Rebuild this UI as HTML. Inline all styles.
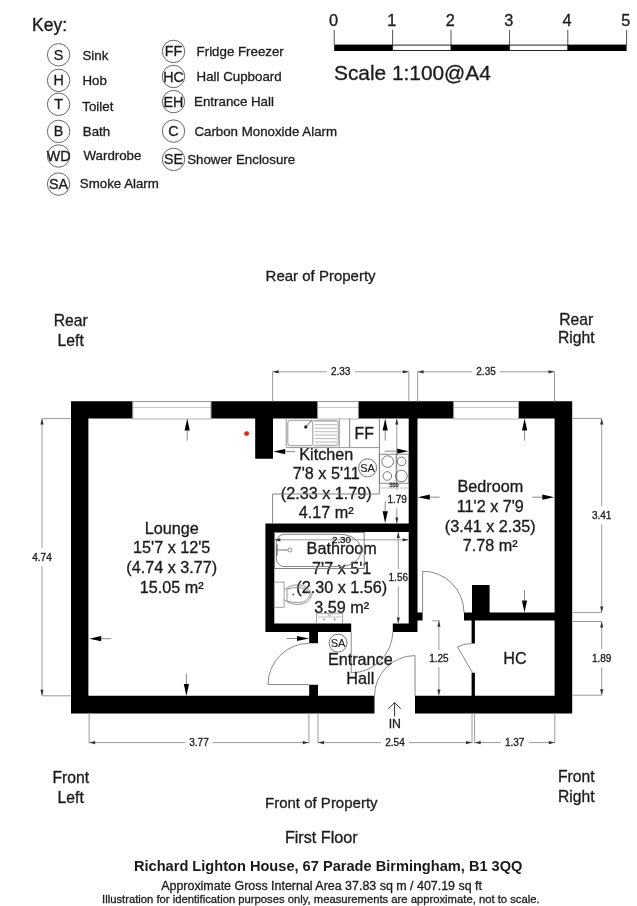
<!DOCTYPE html>
<html><head><meta charset="utf-8">
<style>
html,body{margin:0;padding:0;background:#fff;width:637px;height:906px;overflow:hidden;}
svg{display:block;will-change:transform;}
text{font-family:"Liberation Sans",sans-serif;stroke:#222;stroke-width:0.32px;}
</style></head><body>
<svg width="637" height="906" viewBox="0 0 637 906">
<text x="32" y="31.3" font-size="17.5" text-anchor="start" font-weight="normal" fill="#1a1a1a" >Key:</text>
<circle cx="58.6" cy="54.8" r="11.2" fill="none" stroke="#555" stroke-width="0.9"/>
<text x="58.6" y="59.8" font-size="14.3" text-anchor="middle" font-weight="normal" fill="#1a1a1a" >S</text>
<text x="82.5" y="59.9" font-size="13.3" text-anchor="start" font-weight="normal" fill="#1a1a1a" >Sink</text>
<circle cx="58.6" cy="80.4" r="11.2" fill="none" stroke="#555" stroke-width="0.9"/>
<text x="58.6" y="85.4" font-size="14.3" text-anchor="middle" font-weight="normal" fill="#1a1a1a" >H</text>
<text x="82.5" y="84.9" font-size="13.3" text-anchor="start" font-weight="normal" fill="#1a1a1a" >Hob</text>
<circle cx="58.6" cy="104.3" r="11.2" fill="none" stroke="#555" stroke-width="0.9"/>
<text x="58.6" y="109.3" font-size="14.3" text-anchor="middle" font-weight="normal" fill="#1a1a1a" >T</text>
<text x="82.3" y="110.6" font-size="13.3" text-anchor="start" font-weight="normal" fill="#1a1a1a" >Toilet</text>
<circle cx="58.6" cy="131.4" r="11.2" fill="none" stroke="#555" stroke-width="0.9"/>
<text x="58.6" y="136.4" font-size="14.3" text-anchor="middle" font-weight="normal" fill="#1a1a1a" >B</text>
<text x="82.8" y="135.9" font-size="13.3" text-anchor="start" font-weight="normal" fill="#1a1a1a" >Bath</text>
<circle cx="58.6" cy="156" r="11.2" fill="none" stroke="#555" stroke-width="0.9"/>
<text x="58.6" y="161.0" font-size="14.3" text-anchor="middle" font-weight="normal" fill="#1a1a1a" >WD</text>
<text x="83.5" y="160.3" font-size="13.3" text-anchor="start" font-weight="normal" fill="#1a1a1a" >Wardrobe</text>
<circle cx="58.6" cy="184.1" r="11.2" fill="none" stroke="#555" stroke-width="0.9"/>
<text x="58.6" y="189.1" font-size="14.3" text-anchor="middle" font-weight="normal" fill="#1a1a1a" >SA</text>
<text x="79.8" y="188.4" font-size="13.3" text-anchor="start" font-weight="normal" fill="#1a1a1a" >Smoke Alarm</text>
<circle cx="173.5" cy="51.4" r="11.2" fill="none" stroke="#555" stroke-width="0.9"/>
<text x="173.5" y="56.4" font-size="14.3" text-anchor="middle" font-weight="normal" fill="#1a1a1a" >FF</text>
<text x="196.6" y="55.7" font-size="13.3" text-anchor="start" font-weight="normal" fill="#1a1a1a" >Fridge Freezer</text>
<circle cx="173.5" cy="76.5" r="11.2" fill="none" stroke="#555" stroke-width="0.9"/>
<text x="173.5" y="81.5" font-size="14.3" text-anchor="middle" font-weight="normal" fill="#1a1a1a" >HC</text>
<text x="196.6" y="80.9" font-size="13.3" text-anchor="start" font-weight="normal" fill="#1a1a1a" >Hall Cupboard</text>
<circle cx="173.5" cy="101.6" r="11.2" fill="none" stroke="#555" stroke-width="0.9"/>
<text x="173.5" y="106.6" font-size="14.3" text-anchor="middle" font-weight="normal" fill="#1a1a1a" >EH</text>
<text x="194.1" y="106.3" font-size="13.3" text-anchor="start" font-weight="normal" fill="#1a1a1a" >Entrance Hall</text>
<circle cx="173.5" cy="131.1" r="11.2" fill="none" stroke="#555" stroke-width="0.9"/>
<text x="173.5" y="136.1" font-size="14.3" text-anchor="middle" font-weight="normal" fill="#1a1a1a" >C</text>
<text x="194.4" y="135.8" font-size="13.3" text-anchor="start" font-weight="normal" fill="#1a1a1a" >Carbon Monoxide Alarm</text>
<circle cx="173.5" cy="159.4" r="11.2" fill="none" stroke="#555" stroke-width="0.9"/>
<text x="173.5" y="164.4" font-size="14.3" text-anchor="middle" font-weight="normal" fill="#1a1a1a" >SE</text>
<text x="187.2" y="164.4" font-size="13.3" text-anchor="start" font-weight="normal" fill="#1a1a1a" >Shower Enclosure</text>
<line x1="334.2" y1="29.8" x2="334.2" y2="45" stroke="#555" stroke-width="1"/>
<text x="333.5" y="25.6" font-size="16.3" text-anchor="middle" font-weight="normal" fill="#1a1a1a" >0</text>
<line x1="392.6" y1="29.8" x2="392.6" y2="45" stroke="#555" stroke-width="1"/>
<text x="391.90000000000003" y="25.6" font-size="16.3" text-anchor="middle" font-weight="normal" fill="#1a1a1a" >1</text>
<line x1="451.0" y1="29.8" x2="451.0" y2="45" stroke="#555" stroke-width="1"/>
<text x="450.3" y="25.6" font-size="16.3" text-anchor="middle" font-weight="normal" fill="#1a1a1a" >2</text>
<line x1="509.6" y1="29.8" x2="509.6" y2="45" stroke="#555" stroke-width="1"/>
<text x="508.90000000000003" y="25.6" font-size="16.3" text-anchor="middle" font-weight="normal" fill="#1a1a1a" >3</text>
<line x1="567.8" y1="29.8" x2="567.8" y2="45" stroke="#555" stroke-width="1"/>
<text x="567.0999999999999" y="25.6" font-size="16.3" text-anchor="middle" font-weight="normal" fill="#1a1a1a" >4</text>
<line x1="626.6" y1="29.8" x2="626.6" y2="45" stroke="#555" stroke-width="1"/>
<text x="625.9" y="25.6" font-size="16.3" text-anchor="middle" font-weight="normal" fill="#1a1a1a" >5</text>
<rect x="334.2" y="44.6" width="58.40" height="6.40" fill="#000"/>
<rect x="392.6" y="45.1" width="58.40" height="5.4" fill="#fff" stroke="#222" stroke-width="1"/>
<rect x="451.0" y="44.6" width="58.60" height="6.40" fill="#000"/>
<rect x="509.6" y="45.1" width="58.20" height="5.4" fill="#fff" stroke="#222" stroke-width="1"/>
<rect x="567.8" y="44.6" width="58.80" height="6.40" fill="#000"/>
<text x="334" y="79.9" font-size="20.85" text-anchor="start" font-weight="normal" fill="#1a1a1a" >Scale 1:100@A4</text>
<text x="320.6" y="280.9" font-size="15" text-anchor="middle" font-weight="normal" fill="#1a1a1a" >Rear of Property</text>
<text x="70.7" y="326.4" font-size="15.7" text-anchor="middle" font-weight="normal" fill="#1a1a1a" >Rear</text>
<text x="70.7" y="345.8" font-size="15.7" text-anchor="middle" font-weight="normal" fill="#1a1a1a" >Left</text>
<text x="576.2" y="324.7" font-size="15.7" text-anchor="middle" font-weight="normal" fill="#1a1a1a" >Rear</text>
<text x="576.2" y="343.3" font-size="15.7" text-anchor="middle" font-weight="normal" fill="#1a1a1a" >Right</text>
<text x="70.7" y="783.2" font-size="15.7" text-anchor="middle" font-weight="normal" fill="#1a1a1a" >Front</text>
<text x="70.7" y="802.5" font-size="15.7" text-anchor="middle" font-weight="normal" fill="#1a1a1a" >Left</text>
<text x="576.2" y="782.2" font-size="15.7" text-anchor="middle" font-weight="normal" fill="#1a1a1a" >Front</text>
<text x="576.2" y="802.0" font-size="15.7" text-anchor="middle" font-weight="normal" fill="#1a1a1a" >Right</text>
<text x="321.3" y="808" font-size="15" text-anchor="middle" font-weight="normal" fill="#1a1a1a" >Front of Property</text>
<text x="321.3" y="842.8" font-size="16.2" text-anchor="middle" font-weight="normal" fill="#1a1a1a" >First Floor</text>
<text x="328.2" y="871.0" font-size="14.6" text-anchor="middle" font-weight="bold" fill="#1a1a1a"  style="stroke-width:0">Richard Lighton House, 67 Parade Birmingham, B1 3QQ</text>
<text x="321.6" y="889.8" font-size="12.45" text-anchor="middle" font-weight="normal" fill="#1a1a1a" >Approximate Gross Internal Area 37.83 sq m / 407.19 sq ft</text>
<text x="320.8" y="902.6" font-size="11.25" text-anchor="middle" font-weight="normal" fill="#1a1a1a" >Illustration for identification purposes only, measurements are approximate, not to scale.</text>
<line x1="132.3" y1="401.5" x2="211.4" y2="401.5" stroke="#999" stroke-width="1"/>
<line x1="132.3" y1="407.4" x2="211.4" y2="407.4" stroke="#c4c4c4" stroke-width="1"/>
<line x1="132.3" y1="419.0" x2="211.4" y2="419.0" stroke="#b4b4b4" stroke-width="1"/>
<line x1="132.8" y1="401.5" x2="132.8" y2="419" stroke="#aaa" stroke-width="1"/>
<line x1="210.9" y1="401.5" x2="210.9" y2="419" stroke="#aaa" stroke-width="1"/>
<line x1="317.2" y1="401.5" x2="358.8" y2="401.5" stroke="#999" stroke-width="1"/>
<line x1="317.2" y1="407.4" x2="358.8" y2="407.4" stroke="#c4c4c4" stroke-width="1"/>
<line x1="317.2" y1="419.0" x2="358.8" y2="419.0" stroke="#b4b4b4" stroke-width="1"/>
<line x1="317.7" y1="401.5" x2="317.7" y2="419" stroke="#aaa" stroke-width="1"/>
<line x1="358.3" y1="401.5" x2="358.3" y2="419" stroke="#aaa" stroke-width="1"/>
<line x1="453.2" y1="401.5" x2="519" y2="401.5" stroke="#999" stroke-width="1"/>
<line x1="453.2" y1="407.4" x2="519" y2="407.4" stroke="#c4c4c4" stroke-width="1"/>
<line x1="453.2" y1="419.0" x2="519" y2="419.0" stroke="#b4b4b4" stroke-width="1"/>
<line x1="453.7" y1="401.5" x2="453.7" y2="419" stroke="#aaa" stroke-width="1"/>
<line x1="518.5" y1="401.5" x2="518.5" y2="419" stroke="#aaa" stroke-width="1"/>
<path d="M71 401.3H132.3V418.4H71ZM211.4 401.3H317.2V418.4H211.4ZM358.8 401.3H453.2V418.4H358.8ZM519 401.3H572.2V418.4H519ZM71 401.3H88.4V713.4H71ZM554.6 401.3H572.2V713.4H554.6ZM71 695.7H374.5V713.4H71ZM415.0 695.7H572.2V713.4H415.0ZM255.2 401.3H273.0V458.7H255.2ZM408.7 401.3H417.5V631.9H408.7ZM265.4 523.4H417.5V532.0H265.4ZM265.4 523.4H274.3V631.9H265.4ZM265.4 623.4H351.2V631.9H265.4ZM392.8 623.4H417.5V631.9H392.8ZM309.2 623.4H318.0V643.2H309.2ZM309.2 684.8H318.0V713.1H309.2ZM417.5 612.4H422.6V620.5H417.5ZM464.0 612.4H572.2V620.5H464.0ZM472.0 585.0H489.6V620.5H472.0ZM471.6 620.5H474.9V643.6H471.6ZM471.6 672.8H474.9V713.4H471.6Z" fill="#000"/>
<path d="M309.2 684.5 L268 684.5 A41.2 41.2 0 0 1 309.2 643.3" fill="none" stroke="#7a7a7a" stroke-width="0.9"/>
<path d="M351.2 631.9 L351.2 672.8 A41.6 41.6 0 0 0 392.8 631.9" fill="none" stroke="#7a7a7a" stroke-width="0.9"/>
<path d="M415 696.2 L415 655.6 A40.5 40.5 0 0 0 374.5 696.2" fill="none" stroke="#7a7a7a" stroke-width="0.9"/>
<path d="M422.6 612.4 L422.6 571.2 A41.4 41.4 0 0 1 464 612.4" fill="none" stroke="#7a7a7a" stroke-width="0.9"/>
<path d="M472.6 672.8 L457.6 647 Q463 643.6 471.6 643.6" fill="none" stroke="#7a7a7a" stroke-width="0.9"/>
<line x1="187.2" y1="430.6" x2="187.2" y2="440.6" stroke="#888" stroke-width="1"/>
<path d="M187.2 418.6 L189.79999999999998 430.6 L184.6 430.6 Z" fill="#000"/>
<line x1="524.6" y1="430.6" x2="524.6" y2="440.6" stroke="#888" stroke-width="1"/>
<path d="M524.6 418.6 L527.2 430.6 L522.0 430.6 Z" fill="#000"/>
<line x1="101.2" y1="638.7" x2="111.2" y2="638.7" stroke="#888" stroke-width="1"/>
<path d="M89.2 638.7 L101.2 636.1 L101.2 641.3000000000001 Z" fill="#000"/>
<line x1="186.4" y1="684.0" x2="186.4" y2="674.0" stroke="#888" stroke-width="1"/>
<path d="M186.4 696.0 L183.8 684.0 L189.0 684.0 Z" fill="#000"/>
<line x1="297.0" y1="638.5" x2="287.0" y2="638.5" stroke="#888" stroke-width="1"/>
<path d="M309.0 638.5 L297.0 641.1 L297.0 635.9 Z" fill="#000"/>
<line x1="285.2" y1="451.6" x2="295.2" y2="451.6" stroke="#888" stroke-width="1"/>
<path d="M273.2 451.6 L285.2 449.0 L285.2 454.20000000000005 Z" fill="#000"/>
<line x1="396.6" y1="451.2" x2="384.6" y2="451.2" stroke="#888" stroke-width="1"/>
<path d="M408.6 451.2 L396.6 453.8 L396.6 448.59999999999997 Z" fill="#000"/>
<line x1="385.2" y1="430.6" x2="385.2" y2="440.6" stroke="#888" stroke-width="1"/>
<path d="M385.2 418.6 L387.8 430.6 L382.59999999999997 430.6 Z" fill="#000"/>
<line x1="385.2" y1="511.20000000000005" x2="385.2" y2="501.20000000000005" stroke="#888" stroke-width="1"/>
<path d="M385.2 523.2 L382.59999999999997 511.20000000000005 L387.8 511.20000000000005 Z" fill="#000"/>
<line x1="429.8" y1="497.2" x2="439.8" y2="497.2" stroke="#888" stroke-width="1"/>
<path d="M417.8 497.2 L429.8 494.59999999999997 L429.8 499.8 Z" fill="#000"/>
<line x1="542.3" y1="497.2" x2="532.3" y2="497.2" stroke="#888" stroke-width="1"/>
<path d="M554.3 497.2 L542.3 499.8 L542.3 494.59999999999997 Z" fill="#000"/>
<line x1="524.5" y1="600.4" x2="524.5" y2="590.4" stroke="#888" stroke-width="1"/>
<path d="M524.5 612.4 L521.9 600.4 L527.1 600.4 Z" fill="#000"/>
<path d="M388.4 708.8 L394.6 702.6 L400.8 708.8 M394.6 702.6 L394.6 716.4" fill="none" stroke="#333" stroke-width="1"/>
<text x="394.8" y="727.6" font-size="12.3" text-anchor="middle" font-weight="normal" fill="#1a1a1a" >IN</text>
<line x1="272.6" y1="371.8" x2="326.70000000000005" y2="371.8" stroke="#9a9a9a" stroke-width="1"/>
<line x1="354.70000000000005" y1="371.8" x2="408.8" y2="371.8" stroke="#9a9a9a" stroke-width="1"/>
<path d="M272.6 371.8 L278.6 370.2 L278.6 373.40000000000003 Z" fill="#333"/>
<path d="M408.8 371.8 L402.8 373.40000000000003 L402.8 370.2 Z" fill="#333"/>
<text x="340.70000000000005" y="375.40000000000003" font-size="10" text-anchor="middle" font-weight="normal" fill="#222" >2.33</text>
<line x1="272.6" y1="371.8" x2="272.6" y2="401.3" stroke="#9a9a9a" stroke-width="1"/>
<line x1="408.8" y1="371.8" x2="408.8" y2="401.3" stroke="#9a9a9a" stroke-width="1"/>
<line x1="417.6" y1="371.8" x2="472.05" y2="371.8" stroke="#9a9a9a" stroke-width="1"/>
<line x1="500.05" y1="371.8" x2="554.5" y2="371.8" stroke="#9a9a9a" stroke-width="1"/>
<path d="M417.6 371.8 L423.6 370.2 L423.6 373.40000000000003 Z" fill="#333"/>
<path d="M554.5 371.8 L548.5 373.40000000000003 L548.5 370.2 Z" fill="#333"/>
<text x="486.05" y="375.40000000000003" font-size="10" text-anchor="middle" font-weight="normal" fill="#222" >2.35</text>
<line x1="417.6" y1="371.8" x2="417.6" y2="401.3" stroke="#9a9a9a" stroke-width="1"/>
<line x1="554.5" y1="371.8" x2="554.5" y2="401.3" stroke="#9a9a9a" stroke-width="1"/>
<line x1="42" y1="418.6" x2="42" y2="548.2" stroke="#9a9a9a" stroke-width="1"/>
<line x1="42" y1="566.2" x2="42" y2="695.8" stroke="#9a9a9a" stroke-width="1"/>
<path d="M42 418.6 L43.6 424.6 L40.4 424.6 Z" fill="#333"/>
<path d="M42 695.8 L40.4 689.8 L43.6 689.8 Z" fill="#333"/>
<text x="42" y="560.8000000000001" font-size="10" text-anchor="middle" font-weight="normal" fill="#222" >4.74</text>
<line x1="42" y1="418.6" x2="71" y2="418.6" stroke="#9a9a9a" stroke-width="1"/>
<line x1="42" y1="695.8" x2="71" y2="695.8" stroke="#9a9a9a" stroke-width="1"/>
<line x1="601.7" y1="418.4" x2="601.7" y2="506.5" stroke="#9a9a9a" stroke-width="1"/>
<line x1="601.7" y1="524.5" x2="601.7" y2="612.6" stroke="#9a9a9a" stroke-width="1"/>
<path d="M601.7 418.4 L603.3000000000001 424.4 L600.1 424.4 Z" fill="#333"/>
<path d="M601.7 612.6 L600.1 606.6 L603.3000000000001 606.6 Z" fill="#333"/>
<text x="601.7" y="519.1" font-size="10" text-anchor="middle" font-weight="normal" fill="#222" >3.41</text>
<line x1="601.7" y1="621.5" x2="601.7" y2="649.35" stroke="#9a9a9a" stroke-width="1"/>
<line x1="601.7" y1="667.35" x2="601.7" y2="695.2" stroke="#9a9a9a" stroke-width="1"/>
<path d="M601.7 621.5 L603.3000000000001 627.5 L600.1 627.5 Z" fill="#333"/>
<path d="M601.7 695.2 L600.1 689.2 L603.3000000000001 689.2 Z" fill="#333"/>
<text x="601.7" y="661.95" font-size="10" text-anchor="middle" font-weight="normal" fill="#222" >1.89</text>
<line x1="572.2" y1="418.4" x2="601.7" y2="418.4" stroke="#9a9a9a" stroke-width="1"/>
<line x1="572.2" y1="612.6" x2="601.7" y2="612.6" stroke="#9a9a9a" stroke-width="1"/>
<line x1="572.2" y1="621.5" x2="601.7" y2="621.5" stroke="#9a9a9a" stroke-width="1"/>
<line x1="572.2" y1="695.2" x2="601.7" y2="695.2" stroke="#9a9a9a" stroke-width="1"/>
<line x1="89.1" y1="742.6" x2="185.0" y2="742.6" stroke="#9a9a9a" stroke-width="1"/>
<line x1="213.0" y1="742.6" x2="308.9" y2="742.6" stroke="#9a9a9a" stroke-width="1"/>
<path d="M89.1 742.6 L95.1 741.0 L95.1 744.2 Z" fill="#333"/>
<path d="M308.9 742.6 L302.9 744.2 L302.9 741.0 Z" fill="#333"/>
<text x="199.0" y="746.2" font-size="10" text-anchor="middle" font-weight="normal" fill="#222" >3.77</text>
<line x1="318.0" y1="742.6" x2="381.0" y2="742.6" stroke="#9a9a9a" stroke-width="1"/>
<line x1="409.0" y1="742.6" x2="472.0" y2="742.6" stroke="#9a9a9a" stroke-width="1"/>
<path d="M318.0 742.6 L324.0 741.0 L324.0 744.2 Z" fill="#333"/>
<path d="M472.0 742.6 L466.0 744.2 L466.0 741.0 Z" fill="#333"/>
<text x="395.0" y="746.2" font-size="10" text-anchor="middle" font-weight="normal" fill="#222" >2.54</text>
<line x1="474.6" y1="742.6" x2="500.70000000000005" y2="742.6" stroke="#9a9a9a" stroke-width="1"/>
<line x1="528.7" y1="742.6" x2="554.8" y2="742.6" stroke="#9a9a9a" stroke-width="1"/>
<path d="M474.6 742.6 L480.6 741.0 L480.6 744.2 Z" fill="#333"/>
<path d="M554.8 742.6 L548.8 744.2 L548.8 741.0 Z" fill="#333"/>
<text x="514.7" y="746.2" font-size="10" text-anchor="middle" font-weight="normal" fill="#222" >1.37</text>
<line x1="89.1" y1="713.1" x2="89.1" y2="743.3" stroke="#9a9a9a" stroke-width="1"/>
<line x1="308.9" y1="713.1" x2="308.9" y2="743.3" stroke="#9a9a9a" stroke-width="1"/>
<line x1="318.0" y1="713.1" x2="318.0" y2="743.3" stroke="#9a9a9a" stroke-width="1"/>
<line x1="472.0" y1="713.1" x2="472.0" y2="743.3" stroke="#9a9a9a" stroke-width="1"/>
<line x1="474.6" y1="713.1" x2="474.6" y2="743.3" stroke="#9a9a9a" stroke-width="1"/>
<line x1="554.8" y1="713.1" x2="554.8" y2="743.3" stroke="#9a9a9a" stroke-width="1"/>
<line x1="396.8" y1="418.4" x2="396.8" y2="490" stroke="#9a9a9a" stroke-width="1"/>
<line x1="396.8" y1="508" x2="396.8" y2="523.4" stroke="#9a9a9a" stroke-width="1"/>
<path d="M396.8 418.4 L398.40000000000003 424.4 L395.2 424.4 Z" fill="#333"/>
<path d="M396.8 523.4 L395.2 517.4 L398.40000000000003 517.4 Z" fill="#333"/>
<text x="397.2" y="502.6" font-size="10" text-anchor="middle" font-weight="normal" fill="#222" >1.79</text>
<line x1="398.3" y1="532.0" x2="398.3" y2="569.2" stroke="#9a9a9a" stroke-width="1"/>
<line x1="398.3" y1="586.2" x2="398.3" y2="623.4" stroke="#9a9a9a" stroke-width="1"/>
<path d="M398.3 532.0 L399.90000000000003 538.0 L396.7 538.0 Z" fill="#333"/>
<path d="M398.3 623.4 L396.7 617.4 L399.90000000000003 617.4 Z" fill="#333"/>
<text x="398.3" y="581.3000000000001" font-size="10" text-anchor="middle" font-weight="normal" fill="#222" >1.56</text>
<line x1="438.9" y1="620.8" x2="438.9" y2="650.1" stroke="#9a9a9a" stroke-width="1"/>
<line x1="438.9" y1="667.1" x2="438.9" y2="695.6" stroke="#9a9a9a" stroke-width="1"/>
<path d="M438.9 620.8 L440.5 626.8 L437.29999999999995 626.8 Z" fill="#333"/>
<path d="M438.9 695.6 L437.29999999999995 689.6 L440.5 689.6 Z" fill="#333"/>
<text x="438.9" y="662.2" font-size="10" text-anchor="middle" font-weight="normal" fill="#222" >1.25</text>
<line x1="432" y1="620.8" x2="440" y2="620.8" stroke="#9a9a9a" stroke-width="1"/>
<line x1="274.3" y1="539.8" x2="341.5" y2="539.8" stroke="#9a9a9a" stroke-width="1"/>
<line x1="341.5" y1="539.8" x2="408.7" y2="539.8" stroke="#9a9a9a" stroke-width="1"/>
<path d="M274.3 539.8 L280.3 538.1999999999999 L280.3 541.4 Z" fill="#333"/>
<path d="M408.7 539.8 L402.7 541.4 L402.7 538.1999999999999 Z" fill="#333"/>
<text x="341.5" y="543.4" font-size="9.8" text-anchor="middle" font-weight="normal" fill="#222" >2.30</text>
<text x="171.7" y="533.5" font-size="16.2" text-anchor="middle" font-weight="normal" fill="#1a1a1a" >Lounge</text>
<text x="171.7" y="553.2" font-size="16.2" text-anchor="middle" font-weight="normal" fill="#1a1a1a" >15'7 x 12'5</text>
<text x="171.7" y="572.9" font-size="16.2" text-anchor="middle" font-weight="normal" fill="#1a1a1a" >(4.74 x 3.77)</text>
<text x="171.7" y="592.5" font-size="16.2" text-anchor="middle" font-weight="normal" fill="#1a1a1a" >15.05 m²</text>
<text x="326.3" y="459.9" font-size="16.2" text-anchor="middle" font-weight="normal" fill="#1a1a1a" >Kitchen</text>
<text x="326.3" y="479.4" font-size="16.2" text-anchor="middle" font-weight="normal" fill="#1a1a1a" >7'8 x 5'11</text>
<text x="326.3" y="499.2" font-size="16.2" text-anchor="middle" font-weight="normal" fill="#1a1a1a" >(2.33 x 1.79)</text>
<text x="326.3" y="518.4" font-size="16.2" text-anchor="middle" font-weight="normal" fill="#1a1a1a" >4.17 m²</text>
<text x="490.3" y="492.3" font-size="16.2" text-anchor="middle" font-weight="normal" fill="#1a1a1a" >Bedroom</text>
<text x="490.3" y="511.9" font-size="16.2" text-anchor="middle" font-weight="normal" fill="#1a1a1a" >11'2 x 7'9</text>
<text x="490.3" y="531.5" font-size="16.2" text-anchor="middle" font-weight="normal" fill="#1a1a1a" >(3.41 x 2.35)</text>
<text x="490.3" y="551.1" font-size="16.2" text-anchor="middle" font-weight="normal" fill="#1a1a1a" >7.78 m²</text>
<text x="341.7" y="554.0" font-size="16.2" text-anchor="middle" font-weight="normal" fill="#1a1a1a" >Bathroom</text>
<text x="341.7" y="573.5" font-size="16.2" text-anchor="middle" font-weight="normal" fill="#1a1a1a" >7'7 x 5'1</text>
<text x="341.7" y="593.0" font-size="16.2" text-anchor="middle" font-weight="normal" fill="#1a1a1a" >(2.30 x 1.56)</text>
<text x="341.7" y="612.5" font-size="16.2" text-anchor="middle" font-weight="normal" fill="#1a1a1a" >3.59 m²</text>
<text x="360.3" y="665.0" font-size="16.2" text-anchor="middle" font-weight="normal" fill="#1a1a1a" >Entrance</text>
<text x="360.3" y="684.3" font-size="16.2" text-anchor="middle" font-weight="normal" fill="#1a1a1a" >Hall</text>
<text x="514.9" y="664.3" font-size="16.2" text-anchor="middle" font-weight="normal" fill="#1a1a1a" >HC</text>
<text x="364.2" y="439.2" font-size="15.8" text-anchor="middle" font-weight="normal" fill="#1a1a1a" >FF</text>
<circle cx="367.6" cy="467.8" r="9" fill="none" stroke="#666" stroke-width="0.9"/>
<text x="367.6" y="471.8" font-size="11" text-anchor="middle" font-weight="normal" fill="#1a1a1a" style="stroke-width:0.15">SA</text>
<circle cx="338.1" cy="643.1" r="9" fill="none" stroke="#666" stroke-width="0.9"/>
<text x="338.1" y="647.1" font-size="11" text-anchor="middle" font-weight="normal" fill="#1a1a1a" style="stroke-width:0.15">SA</text>
<circle cx="246.6" cy="433.6" r="2.4" fill="#e0201a"/>
<line x1="286.2" y1="418.4" x2="286.2" y2="447.2" stroke="#999" stroke-width="1"/>
<line x1="339.3" y1="418.4" x2="339.3" y2="447.2" stroke="#999" stroke-width="1"/>
<rect x="287.8" y="420.3" width="25" height="25.4" fill="none" stroke="#8a8a8a" stroke-width="0.9" rx="2.5"/>
<path d="M313 420.6 H336 Q338.2 420.6 338.2 423 V443.5 Q338.2 445.8 336 445.8 H313" fill="none" stroke="#9a9a9a" stroke-width="0.9"/>
<line x1="314.6" y1="421.2" x2="337.1" y2="421.2" stroke="#b0b0b0" stroke-width="0.9"/>
<line x1="314.6" y1="424.7" x2="337.1" y2="424.7" stroke="#b0b0b0" stroke-width="0.9"/>
<line x1="314.6" y1="428.2" x2="337.1" y2="428.2" stroke="#b0b0b0" stroke-width="0.9"/>
<line x1="314.6" y1="431.7" x2="337.1" y2="431.7" stroke="#b0b0b0" stroke-width="0.9"/>
<line x1="314.6" y1="435.1" x2="337.1" y2="435.1" stroke="#b0b0b0" stroke-width="0.9"/>
<line x1="314.6" y1="438.6" x2="337.1" y2="438.6" stroke="#b0b0b0" stroke-width="0.9"/>
<line x1="314.6" y1="442.0" x2="337.1" y2="442.0" stroke="#b0b0b0" stroke-width="0.9"/>
<line x1="314.6" y1="445.2" x2="337.1" y2="445.2" stroke="#b0b0b0" stroke-width="0.9"/>
<circle cx="305.8" cy="426.9" r="1.6" fill="#111"/>
<line x1="305.8" y1="426.9" x2="311.9" y2="420.2" stroke="#555" stroke-width="0.9"/>
<line x1="349.7" y1="418.4" x2="349.7" y2="447.6" stroke="#777" stroke-width="0.9"/>
<line x1="286.2" y1="447.6" x2="379.4" y2="447.6" stroke="#8a8a8a" stroke-width="0.9"/>
<line x1="379.4" y1="418.4" x2="379.4" y2="494.0" stroke="#777" stroke-width="0.9"/>
<line x1="272.6" y1="494.0" x2="379.4" y2="494.0" stroke="#777" stroke-width="0.9"/>
<line x1="272.6" y1="494.0" x2="272.6" y2="523.4" stroke="#777" stroke-width="0.9"/>
<rect x="379.4" y="454.2" width="29.3" height="29" fill="none" stroke="#777" stroke-width="0.9"/>
<line x1="396.2" y1="454.2" x2="396.2" y2="483.2" stroke="#777" stroke-width="0.9"/>
<line x1="379.4" y1="488.0" x2="408.7" y2="488.0" stroke="#bbb" stroke-width="0.9"/>
<text x="394" y="487.2" font-size="5.5" text-anchor="middle" font-weight="normal" fill="#555" >550</text>
<circle cx="387.7" cy="461.6" r="5.8" fill="none" stroke="#666" stroke-width="0.9"/>
<circle cx="387.3" cy="476.0" r="4.3" fill="none" stroke="#666" stroke-width="0.9"/>
<circle cx="401.6" cy="461.4" r="4.3" fill="none" stroke="#666" stroke-width="0.9"/>
<circle cx="401.4" cy="476.0" r="5.8" fill="none" stroke="#666" stroke-width="0.9"/>
<rect x="274.5" y="532.5" width="89.7" height="36" fill="none" stroke="#777" stroke-width="0.9"/>
<path d="M284 534.3 L340 534.3 A21 16 0 0 1 340 566.5 L284 566.5 A8 8 0 0 1 276.3 558.5 L276.3 542.3 A8 8 0 0 1 284 534.3 Z" fill="none" stroke="#777" stroke-width="0.9"/>
<line x1="277" y1="544.5" x2="277" y2="555.5" stroke="#666" stroke-width="1.2"/>
<line x1="277" y1="550" x2="288" y2="550" stroke="#666" stroke-width="0.9"/>
<circle cx="290" cy="550" r="2" fill="none" stroke="#777" stroke-width="0.8"/>
<rect x="274.3" y="582.1" width="9.8" height="25.2" fill="none" stroke="#999" stroke-width="0.9"/>
<path d="M284.1 590 Q290 584.8 298 584.8 Q308 584.8 312 594.7 Q308 604.5 298 604.5 Q290 604.5 284.1 599.5" fill="none" stroke="#8a8a8a" stroke-width="0.9"/>
<path d="M287 589 Q292 587.5 298.5 587.5 Q307 587.5 310.2 595 Q307 602.6 298.5 602.6 Q292 602.6 287 601 Z" fill="none" stroke="#8a8a8a" stroke-width="0.9"/>
<circle cx="293.2" cy="594.5" r="0.9" fill="#555"/>
<path d="M316.5 623.4 V613.3 H342.6 V623.4" fill="none" stroke="#999" stroke-width="0.9"/>
<line x1="318" y1="617" x2="341" y2="617" stroke="#bbb" stroke-width="0.9"/>
<circle cx="324" cy="619.5" r="0.9" fill="#888"/>
<circle cx="334.7" cy="619.5" r="0.9" fill="#888"/>
<circle cx="329.3" cy="614.8" r="1.2" fill="none" stroke="#999" stroke-width="0.8"/>
</svg>
</body></html>
